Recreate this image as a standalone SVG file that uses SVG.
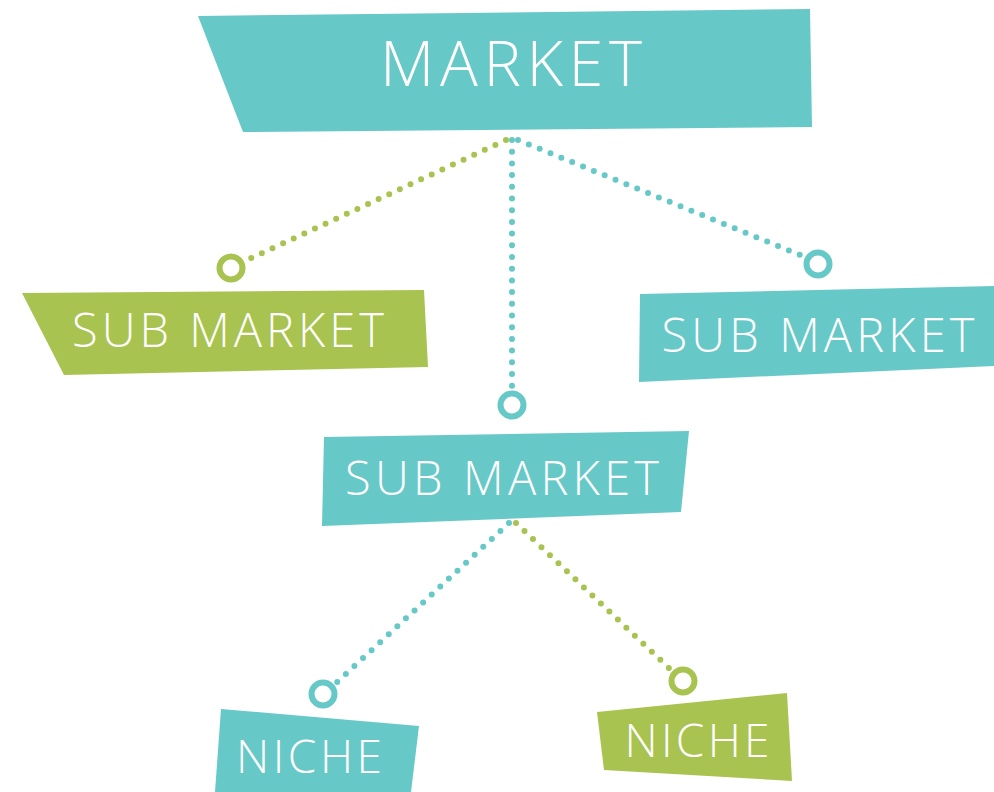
<svg xmlns="http://www.w3.org/2000/svg" width="994" height="792" viewBox="0 0 994 792">
  <style>
    .teal { fill: #67C8C8; }
    .green { fill: #A8C34F; }
    .label { fill: #FFFFFF; font-family: "Open Sans", "Lato", "Liberation Sans", sans-serif; font-weight: 300; text-anchor: middle; }
    .dots { fill: none; stroke-width: 6; stroke-linecap: round; stroke-dasharray: 0 11.7; }
    .ring { fill: none; stroke-width: 6; }
    .c-teal { stroke: #67C8C8; }
    .c-green { stroke: #A8C34F; }
  </style>

  <!-- dotted connectors with ring ends -->
  <g id="connectors">
    <line class="dots c-green" x1="506" y1="140" x2="245" y2="261"/>
    <line class="dots c-teal" x1="518" y1="140" x2="805" y2="257"/>
    <line class="dots c-teal" x1="512" y1="140" x2="512" y2="389"/>
    <line class="dots c-teal" x1="509" y1="523" x2="335" y2="684"/>
    <line class="dots c-green" x1="516" y1="523" x2="671" y2="670"/>
    <circle class="ring c-green" cx="231" cy="268" r="11.5"/>
    <circle class="ring c-teal" cx="818" cy="264" r="11.5"/>
    <circle class="ring c-teal" cx="512" cy="405" r="11.5"/>
    <circle class="ring c-teal" cx="323" cy="694" r="11.5"/>
    <circle class="ring c-green" cx="683" cy="681" r="11.5"/>
  </g>

  <g id="market">
    <polygon class="teal" points="198,16 810,9 812,127 243,132"/>
    <text class="label" x="511" y="86" font-size="63" textLength="262" lengthAdjust="spacing">MARKET</text>
  </g>

  <g id="sub-market-left">
    <polygon class="green" points="22,293 424,290 428,367 64,375"/>
    <text class="label" x="228" y="347" font-size="47" textLength="312" lengthAdjust="spacing">SUB MARKET</text>
  </g>

  <g id="sub-market-right">
    <polygon class="teal" points="640,294 994,286 994,366 639,382"/>
    <text class="label" x="818" y="352" font-size="47" textLength="313" lengthAdjust="spacing">SUB MARKET</text>
  </g>

  <g id="sub-market-center">
    <polygon class="teal" points="324,437 689,431 681,512 322,526"/>
    <text class="label" x="502" y="495" font-size="47" textLength="314" lengthAdjust="spacing">SUB MARKET</text>
  </g>

  <g id="niche-left">
    <polygon class="teal" points="221,709 419,726 411,792 215,792"/>
    <text class="label" x="309" y="773" font-size="46" textLength="146" lengthAdjust="spacing">NICHE</text>
  </g>

  <g id="niche-right">
    <polygon class="green" points="597,712 787,693 792,781 604,770"/>
    <text class="label" x="697" y="757" font-size="46" textLength="145" lengthAdjust="spacing">NICHE</text>
  </g>
</svg>
